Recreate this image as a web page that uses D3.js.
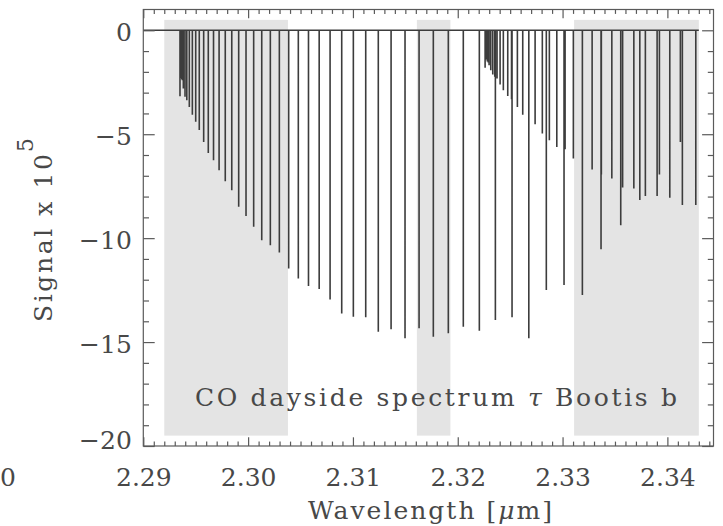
<!DOCTYPE html>
<html><head><meta charset="utf-8">
<script src="https://cdn.jsdelivr.net/npm/d3@7"></script>
<style>
html,body{margin:0;padding:0;background:#fff;}
svg{display:block;}
text{font-family:"DejaVu Serif",serif;fill:#484848;}
</style></head>
<body>
<svg id="chart" width="723" height="526"></svg>
<script>
// ---- data ----
// CO 2-0 band lines: wavelength [micron], signal x 1e5
const band1Wave = [2.29350,2.29356,2.29362,2.29367,2.29373,2.29382,2.29398,2.29415,2.29439,2.29468,
  2.29500,2.29534,2.29576,2.29620,2.29670,2.29723,2.29782,2.29844,2.29910,2.29980,
  2.30053,2.30130,2.30212,2.30298,2.30387,2.30479,2.30576,2.30678,2.30782,2.30893,
  2.31004,2.31122,2.31242,2.31364,2.31497,2.31631,2.31767,2.31910,2.32053,2.32206,
  2.32359,2.32518,2.32678,2.32845,2.33014,2.33189,2.33367,2.33555,2.33737,2.33902,
  2.34143,2.34271];
const band1Depth = [-3.17,-2.3,-2.3,-2.35,-2.4,-2.8,-3.2,-3.37,-3.69,-4.06,
  -4.4,-4.8,-5.37,-5.9,-6.25,-6.73,-7.26,-7.69,-8.49,-8.93,
  -9.45,-10.1,-10.34,-10.69,-11.46,-11.94,-12.3,-12.45,-12.95,-13.62,
  -13.78,-13.81,-14.5,-14.38,-14.82,-14.34,-14.74,-14.58,-14.26,-14.46,
  -13.94,-13.81,-14.82,-12.5,-12.26,-12.74,-10.53,-9.38,-8.17,-7.97,
  -8.41,-8.41];
// CO 3-1 band lines
const band2Wave = [2.32261,2.32267,2.32274,2.32282,2.32291,2.32299,2.32315,2.32334,2.32353,2.32375,
  2.32404,2.32435,2.32477,2.32513,2.32569,2.32620,2.32738,2.32807,2.32874,2.32945,
  2.33024,2.33103,2.33282,2.33370,2.33470,2.33573,2.33680,2.33790,2.33924,2.34023,
  2.34124];
const band2Depth = [-1.8,-1.4,-1.4,-1.5,-1.55,-1.68,-1.92,-2.13,-2.24,-2.32,
  -2.61,-2.88,-3.16,-3.32,-3.69,-4.06,-4.52,-4.97,-5.29,-5.61,
  -5.72,-6.17,-6.7,-6.94,-7.13,-7.56,-7.61,-7.97,-6.94,-8.06,
  -5.37];
const spectrumRange = [2.2900, 2.3430];
// shaded wavelength windows
const shadeStart = [2.2920, 2.3161, 2.3311];
const shadeEnd   = [2.3038, 2.3193, 2.3430];
const shadeTop = 0.5, shadeBottom = -19.5;
// ticks
const xTickValues = [2.29, 2.30, 2.31, 2.32, 2.33, 2.34];
const xTickLabels = ["2.29", "2.30", "2.31", "2.32", "2.33", "2.34"];
const yTickValues = [0, -5, -10, -15, -20];
const yTickLabels = ["0", "\u22125", "\u221210", "\u221215", "\u221220"];
const annotation = ["CO dayside spectrum ", "\u03C4", " Bootis b"];

// ---- layout ----
const L = 143.3, R = 713.5, T = 9.5, B = 446;
const svg = d3.select("#chart");
const x = d3.scaleLinear().domain([2.29, 2.3444]).range([L, R]);
const y = d3.scaleLinear().domain([-20, 1]).range([B, T]);

// shaded regions
svg.append("g").selectAll("rect").data(shadeStart).join("rect")
  .attr("x", (d) => x(d))
  .attr("width", (d, i) => x(shadeEnd[i]) - x(d))
  .attr("y", y(shadeTop))
  .attr("height", y(shadeBottom) - y(shadeTop))
  .attr("fill", "#e4e4e4");

// spectrum trace
const lines = band1Wave.map((w, i) => [w, band1Depth[i]])
  .concat(band2Wave.map((w, i) => [w, band2Depth[i]]))
  .sort((a, b) => a[0] - b[0]);
const pts = [[spectrumRange[0], 0]];
lines.forEach(([w, d]) => { pts.push([w, 0], [w, d], [w, 0]); });
pts.push([spectrumRange[1], 0]);
svg.append("path")
  .attr("d", d3.line().x((p) => x(p[0])).y((p) => y(p[1]))(pts))
  .attr("fill", "none").attr("stroke", "#3c3c3c").attr("stroke-width", 1.6);

// axes
const axisColor = "#5a5a5a";
function style(g) {
  g.select(".domain").remove();
  g.selectAll(".tick line").attr("stroke", axisColor).attr("stroke-width", 1.2);
  g.selectAll(".tick text").attr("font-size", 25).attr("fill", "#484848")
    .attr("font-family", "DejaVu Serif, serif");
}
const xMinor = d3.range(2291, 2345).filter((v) => v % 10 !== 0).map((v) => v / 1000);
const yMinor = d3.range(-19, 1).filter((v) => v % 5 !== 0);

// bottom
svg.append("g").attr("transform", `translate(0,${B})`)
  .call(d3.axisBottom(x).tickValues(xTickValues).tickFormat((d, i) => xTickLabels[i])
    .tickSizeInner(-8.7).tickSizeOuter(0).tickPadding(22)).call(style);
svg.append("g").attr("transform", `translate(0,${B})`)
  .call(d3.axisBottom(x).tickValues(xMinor).tickFormat("").tickSizeInner(-4.4).tickSizeOuter(0)).call(style);
// top
svg.append("g").attr("transform", `translate(0,${T})`)
  .call(d3.axisTop(x).tickValues(xTickValues).tickFormat("").tickSizeInner(-8.7).tickSizeOuter(0)).call(style);
svg.append("g").attr("transform", `translate(0,${T})`)
  .call(d3.axisTop(x).tickValues(xMinor).tickFormat("").tickSizeInner(-4.4).tickSizeOuter(0)).call(style);
// left
const gl = svg.append("g").attr("transform", `translate(${L},0)`)
  .call(d3.axisLeft(y).tickValues(yTickValues).tickFormat((d, i) => yTickLabels[i])
    .tickSizeInner(-11.4).tickSizeOuter(0).tickPadding(11.5)).call(style);
gl.selectAll(".tick text").attr("dy", "0.42em");
gl.selectAll(".tick").filter((d) => d === -20).select("text").attr("dy", "0.1em");
svg.append("g").attr("transform", `translate(${L},0)`)
  .call(d3.axisLeft(y).tickValues(yMinor).tickFormat("").tickSizeInner(-5.7).tickSizeOuter(0)).call(style);
// right
svg.append("g").attr("transform", `translate(${R},0)`)
  .call(d3.axisRight(y).tickValues(yTickValues).tickFormat("").tickSizeInner(-11.4).tickSizeOuter(0)).call(style);
svg.append("g").attr("transform", `translate(${R},0)`)
  .call(d3.axisRight(y).tickValues(yMinor).tickFormat("").tickSizeInner(-5.7).tickSizeOuter(0)).call(style);

// frame
svg.append("rect").attr("x", L).attr("y", T).attr("width", R - L).attr("height", B - T)
  .attr("fill", "none").attr("stroke", axisColor).attr("stroke-width", 1.2);

// stray label at left edge
svg.append("text").attr("x", 0).attr("y", 485.5).attr("font-size", 25).text("0");

// annotation
const ann = svg.append("text").attr("x", 195).attr("y", 406).attr("font-size", 25)
  .attr("textLength", 482).attr("lengthAdjust", "spacing");
ann.append("tspan").text(annotation[0]);
ann.append("tspan").attr("font-style", "italic").text(annotation[1]);
ann.append("tspan").text(annotation[2]);

// x title
const xt = svg.append("text").attr("x", 308).attr("y", 519).attr("font-size", 25)
  .attr("textLength", 244).attr("lengthAdjust", "spacing");
xt.append("tspan").text("Wavelength [");
xt.append("tspan").attr("font-style", "italic").text("\u03BC");
xt.append("tspan").text("m]");

// y title
svg.append("text").attr("transform", "translate(52,322) rotate(-90)")
  .attr("font-size", 25).attr("textLength", 168).attr("lengthAdjust", "spacing")
  .text("Signal x 10");
svg.append("text").attr("transform", "translate(33,152) rotate(-90)")
  .attr("font-size", 22).text("5");
</script>
</body></html>
